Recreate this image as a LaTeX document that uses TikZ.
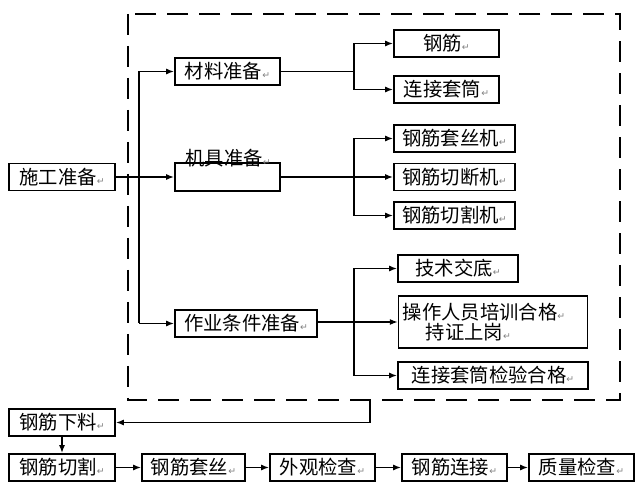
\documentclass[tikz,border=0pt]{standalone}
\usepackage{fontspec}
\setmainfont{Noto Sans CJK SC}
\newfontfamily\symfont{DejaVu Sans}
\usetikzlibrary{arrows.meta}
\newcommand\parmark{\textcolor{gray}{\symfont\fontsize{7}{7}\selectfont ↵}}
\begin{document}
\begin{tikzpicture}[x=0.75pt, y=-0.75pt,
    box/.style={draw, line width=1.2pt, minimum height=20.25pt, inner sep=1pt, font=\fontsize{14.5}{17}\selectfont},
    arr/.style={-{Latex[length=6pt,width=4.5pt]}, line width=1.2pt},
    line/.style={line width=1.2pt}]
  \useasboundingbox (0,0) rectangle (640,484);
  % dashed frame
  \draw[line, dash pattern=on 16pt off 8pt] (128,14) rectangle (620,400);
  % left column
  \node[box, minimum width=79.5pt] (shigong) at (62,177){施工准备\parmark};
  \node[box, minimum width=78.75pt] (cailiao) at (227.5,71.5){材料准备\parmark};
  \node[box, minimum width=78.75pt, minimum height=21pt] (jiju) at (227.5,177){};
  \node[font=\fontsize{14.5}{17}\selectfont, inner sep=0pt] (jijutext) at (228,158){机具准备\parmark};
  \node[box, minimum width=106.5pt] (zuoye) at (246,323.5){作业条件准备\parmark};
  % right column
  \node[box, minimum width=78.75pt] (gangjin) at (446.5,43.5){钢筋\parmark};
  \node[box, minimum width=78.75pt] (taotong) at (446.5,89.5){连接套筒\parmark};
  \node[box, minimum width=90.75pt] (taosiji) at (454.5,138.5){钢筋套丝机\parmark};
  \node[box, minimum width=90.75pt] (qieduanji) at (454.5,177){钢筋切断机\parmark};
  \node[box, minimum width=90.75pt] (qiegeji) at (454.5,215.5){钢筋切割机\parmark};
  \node[box, minimum width=90pt] (jishu) at (458,268.5){技术交底\parmark};
  \node[box, inner xsep=3pt, text width=135.5pt, minimum height=39pt, align=left] (peixun) at (493,322){\noindent 操作人员培训合格\parmark\\[-2pt]\hspace*{1.2em}持证上岗\parmark};
  \node[box, minimum width=142.5pt] (jianyan) at (493,375.5){连接套筒检验合格\parmark};
  % bottom row
  \node[box, minimum width=79.5pt] (xialiao) at (62,422.5){钢筋下料\parmark};
  \node[box, minimum width=79.5pt] (qiege) at (62,467.5){钢筋切割\parmark};
  \node[box, minimum width=77.25pt] (taosi) at (193.5,467.5){钢筋套丝\parmark};
  \node[box, minimum width=78.75pt] (waiguan) at (322.5,467.5){外观检查\parmark};
  \node[box, minimum width=78.75pt] (lianjie) at (454.5,467.5){钢筋连接\parmark};
  \node[box, minimum width=78.75pt] (zhiliang) at (581.5,467.5){质量检查\parmark};
  % trunk
  \coordinate (t1) at (139,71.5);
  \coordinate (t2) at (139,323.5);
  \draw[line] (t1) -- (t2);
  \draw[arr] (shigong.east) -- (jiju.west);
  \draw[arr] (t1) -- (cailiao.west);
  \draw[arr] (t2) -- (zuoye.west);
  % branches
  \coordinate (b1) at (354,71.5);
  \coordinate (b2) at (354,177);
  \coordinate (b3) at (354,322);
  \draw[line] (cailiao.east) -- (b1);
  \draw[arr] (b1) |- (gangjin.west);
  \draw[arr] (b1) |- (taotong.west);
  \draw[line] (jiju.east) -- (b2);
  \draw[arr] (b2) |- (taosiji.west);
  \draw[arr] (b2) -- (qieduanji.west);
  \draw[arr] (b2) |- (qiegeji.west);
  \draw[line] (zuoye.east |- b3) -- (b3);
  \draw[arr] (b3) |- (jishu.west);
  \draw[arr] (b3) -- (peixun.west);
  \draw[arr] (b3) |- (jianyan.west);
  % out of the frame
  \coordinate (out) at (370,400);
  \draw[arr] (out) |- (xialiao.east);
  \draw[arr] (xialiao) -- (qiege);
  \draw[arr] (qiege) -- (taosi);
  \draw[arr] (taosi) -- (waiguan);
  \draw[arr] (waiguan) -- (lianjie);
  \draw[arr] (lianjie) -- (zhiliang);
\end{tikzpicture}
\end{document}
